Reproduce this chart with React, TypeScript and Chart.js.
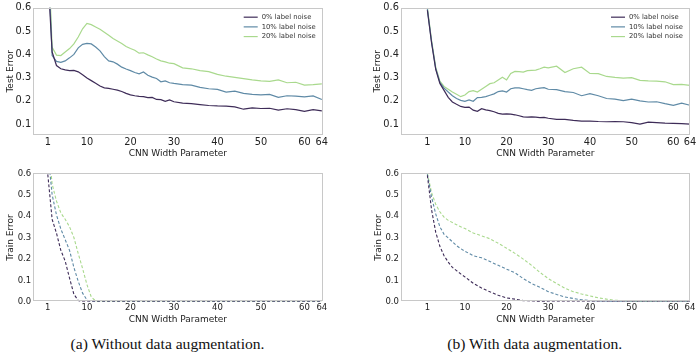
import React, { useEffect, useRef } from "react";
import { Chart, registerables } from "chart.js";

Chart.register(...registerables);

// ---------- data ----------
const TOP_WIDTHS = [
  1, 2, 3, 4, 5, 6, 7, 8, 9, 10, 11, 12, 13, 14, 15, 16, 17, 18, 19, 20,
  21, 22, 23, 24, 25, 26, 27, 28, 29, 30, 32, 34, 36, 38, 40, 42, 44, 46,
  48, 50, 52, 54, 56, 58, 60, 62, 64,
];

// (a) Without data augmentation – test error
const TEST_NOAUG_0 = [
  0.75, 0.41, 0.352, 0.338, 0.333, 0.33, 0.331, 0.325, 0.312, 0.298, 0.287,
  0.276, 0.264, 0.256, 0.254, 0.25, 0.246, 0.24, 0.232, 0.226, 0.222, 0.219,
  0.218, 0.214, 0.215, 0.206, 0.205, 0.198, 0.204, 0.196, 0.19, 0.188, 0.184,
  0.18, 0.178, 0.177, 0.174, 0.164, 0.17, 0.167, 0.168, 0.16, 0.166, 0.162,
  0.155, 0.162, 0.157,
];
const TEST_NOAUG_10 = [
  0.85, 0.395, 0.37, 0.366, 0.372, 0.385, 0.4, 0.428, 0.443, 0.447, 0.445,
  0.432, 0.415, 0.39, 0.372, 0.368, 0.358, 0.345, 0.337, 0.33, 0.322, 0.316,
  0.324, 0.31, 0.302, 0.296, 0.282, 0.286, 0.278, 0.275, 0.27, 0.268, 0.258,
  0.252, 0.249, 0.238, 0.242, 0.232, 0.228, 0.226, 0.228, 0.215, 0.222, 0.22,
  0.217, 0.221, 0.206,
];
const TEST_NOAUG_20 = [
  0.9, 0.43, 0.397, 0.395, 0.41, 0.425, 0.445, 0.475, 0.51, 0.533, 0.528,
  0.518, 0.508, 0.495, 0.482, 0.468, 0.458, 0.447, 0.434, 0.425, 0.418, 0.405,
  0.407, 0.398, 0.39, 0.38, 0.372, 0.368, 0.362, 0.36, 0.342, 0.338, 0.33,
  0.326, 0.314, 0.306, 0.301, 0.296, 0.29, 0.286, 0.284, 0.29, 0.278, 0.28,
  0.268, 0.27, 0.273,
];

// (b) With data augmentation – test error
const TEST_AUG_0 = [
  0.59, 0.45, 0.335, 0.275, 0.245, 0.215, 0.195, 0.185, 0.176, 0.172, 0.173,
  0.16, 0.155, 0.166, 0.161, 0.158, 0.153, 0.146, 0.143, 0.144, 0.143, 0.14,
  0.136, 0.131, 0.13, 0.131, 0.13, 0.128, 0.129, 0.125, 0.12, 0.12, 0.116,
  0.113, 0.113, 0.111, 0.11, 0.111, 0.11, 0.106, 0.1, 0.108, 0.106, 0.104,
  0.103, 0.102, 0.1,
];
const TEST_AUG_10 = [
  0.595, 0.455, 0.34, 0.28, 0.255, 0.238, 0.222, 0.21, 0.202, 0.198, 0.204,
  0.198, 0.214, 0.215, 0.218, 0.224, 0.23, 0.24, 0.243, 0.238, 0.252, 0.256,
  0.256, 0.252, 0.248, 0.245, 0.252, 0.255, 0.257, 0.25, 0.248, 0.24, 0.236,
  0.222, 0.231, 0.222, 0.21, 0.207, 0.201, 0.207, 0.2, 0.195, 0.196, 0.188,
  0.181, 0.19, 0.181,
];
const TEST_AUG_20 = [
  0.6, 0.46, 0.345, 0.285, 0.262, 0.25, 0.238, 0.228, 0.218, 0.225, 0.24,
  0.244, 0.238, 0.25, 0.262, 0.274, 0.278, 0.29, 0.302, 0.29, 0.318, 0.327,
  0.326, 0.324, 0.33, 0.331, 0.332, 0.338, 0.345, 0.342, 0.349, 0.322, 0.338,
  0.345, 0.318, 0.317, 0.305, 0.301, 0.298, 0.3, 0.288, 0.286, 0.285, 0.282,
  0.27, 0.271, 0.267,
];

// (a) Without data augmentation – train error
const TRAIN_NOAUG_WIDTHS = [1, 2, 3, 4, 5, 6, 7, 8, 9, 10, 11, 12, 13, 14, 16, 20, 30, 40, 50, 60, 64];
const TRAIN_NOAUG_0 = [0.595, 0.385, 0.32, 0.24, 0.19, 0.11, 0.035, 0.005, 0, 0, 0, 0, 0, 0, 0, 0, 0, 0, 0, 0, 0];
const TRAIN_NOAUG_10 = [0.7, 0.5, 0.405, 0.34, 0.29, 0.24, 0.16, 0.095, 0.04, 0.008, 0, 0, 0, 0, 0, 0, 0, 0, 0, 0, 0];
const TRAIN_NOAUG_20 = [0.75, 0.55, 0.47, 0.415, 0.385, 0.35, 0.3, 0.225, 0.155, 0.08, 0.022, 0.003, 0, 0, 0, 0, 0, 0, 0, 0, 0];

// (b) With data augmentation – train error
const TRAIN_AUG_WIDTHS = [
  1, 2, 3, 4, 5, 6, 7, 8, 9, 10, 12, 14, 16, 18, 20, 22, 24, 26, 28, 30, 32,
  34, 36, 38, 40, 42, 44, 46, 48, 50, 52, 56, 60, 64,
];
const TRAIN_AUG_0 = [
  0.59, 0.43, 0.325, 0.259, 0.215, 0.185, 0.16, 0.145, 0.13, 0.116, 0.086,
  0.064, 0.046, 0.03, 0.018, 0.012, 0.005, 0.003, 0.001, 0, 0, 0, 0, 0, 0, 0,
  0, 0, 0, 0, 0, 0, 0, 0,
];
const TRAIN_AUG_10 = [
  0.595, 0.49, 0.41, 0.35, 0.315, 0.298, 0.28, 0.262, 0.248, 0.236, 0.215,
  0.205, 0.188, 0.17, 0.152, 0.135, 0.108, 0.085, 0.067, 0.047, 0.034, 0.022,
  0.015, 0.009, 0.005, 0.003, 0.002, 0.001, 0, 0, 0, 0, 0, 0,
];
const TRAIN_AUG_20 = [
  0.6, 0.51, 0.455, 0.42, 0.395, 0.38, 0.37, 0.36, 0.35, 0.342, 0.321, 0.308,
  0.294, 0.273, 0.25, 0.226, 0.199, 0.17, 0.137, 0.108, 0.085, 0.063, 0.047,
  0.036, 0.027, 0.018, 0.012, 0.007, 0.004, 0.002, 0.001, 0, 0, 0,
];

const X_TICKS = [1, 10, 20, 30, 40, 50, 60, 64];
const Y_TICKS_TEST = [0.1, 0.2, 0.3, 0.4, 0.5, 0.6];
const Y_TICKS_TRAIN = [0, 0.1, 0.2, 0.3, 0.4, 0.5, 0.6];
const SERIES_LABELS = ["0% label noise", "10% label noise", "20% label noise"];
const X_TITLE = "CNN Width Parameter";
const CAPTION_A = "(a) Without data augmentation.";
const CAPTION_B = "(b) With data augmentation.";

// ---------- styles ----------
const COLORS = ["#3e2c58", "#5f8aa6", "#a9d98d"];
const FONT = "'DejaVu Sans', sans-serif";
const TEXT_COLOR = "#222222";
const FRAME_COLOR = "#c8c8c8";

type PanelSpec = {
  key: string;
  left: number;
  top: number;
  width: number;
  height: number;
  yAxisWidth: number;
  padRight: number;
  padTop: number;
  xAxisHeight: number;
  xMin: number;
  xMax: number;
  yMin: number;
  yMax: number;
  yTicks: number[];
  yTitle: string;
  yTitlePad: number;
  tickSize: number;
  xTickPad: number;
  xTitlePadBottom: number;
  widths: number[];
  series: number[][];
  dashed: boolean;
  legend: boolean;
};

const framePlugin = {
  id: "frame",
  afterDatasetsDraw(chart: any) {
    const { ctx, chartArea } = chart;
    ctx.save();
    ctx.strokeStyle = FRAME_COLOR;
    ctx.lineWidth = 1;
    ctx.strokeRect(
      Math.round(chartArea.left) + 0.5,
      Math.round(chartArea.top) + 0.5,
      Math.round(chartArea.right - chartArea.left) - 1,
      Math.round(chartArea.bottom - chartArea.top) - 1
    );
    ctx.restore();
  },
};

const legendPlugin = {
  id: "innerLegend",
  afterDraw(chart: any, _args: any, opts: any) {
    if (!opts || !opts.show) return;
    const { ctx, chartArea } = chart;
    ctx.save();
    ctx.font = `6.8px ${FONT}`;
    ctx.textBaseline = "middle";
    ctx.textAlign = "left";
    chart.data.datasets.forEach((ds: any, i: number) => {
      const y = chartArea.top + 9.5 + i * 9.7;
      ctx.strokeStyle = ds.borderColor;
      ctx.lineWidth = 1.2;
      ctx.beginPath();
      ctx.moveTo(chartArea.right - 79, y);
      ctx.lineTo(chartArea.right - 65, y);
      ctx.stroke();
      ctx.fillStyle = "#333333";
      ctx.fillText(ds.label, chartArea.right - 61, y);
    });
    ctx.restore();
  },
};

function Panel({ spec }: { spec: PanelSpec }) {
  const ref = useRef<HTMLCanvasElement | null>(null);
  useEffect(() => {
    if (!ref.current) return;
    const chart = new Chart(ref.current, {
      type: "line",
      data: {
        datasets: spec.series.map((vals, i) => ({
          label: SERIES_LABELS[i],
          data: spec.widths.map((w, j) => ({ x: w, y: vals[j] })),
          borderColor: COLORS[i],
          backgroundColor: COLORS[i],
          borderWidth: spec.dashed ? 1.1 : 1.2,
          borderDash: spec.dashed ? [3, 2] : [],
          pointRadius: 0,
          tension: 0,
          fill: false,
        })),
      },
      options: {
        responsive: false,
        animation: false,
        devicePixelRatio: 1,
        events: [],
        layout: { padding: { left: 0, right: spec.padRight, top: spec.padTop, bottom: 0 } },
        plugins: {
          legend: { display: false },
          tooltip: { enabled: false },
          innerLegend: { show: spec.legend },
        } as any,
        scales: {
          x: {
            type: "linear",
            min: spec.xMin,
            max: spec.xMax,
            grid: { display: false, drawTicks: false },
            border: { display: false },
            afterBuildTicks: (s: any) => {
              s.ticks = X_TICKS.map((v) => ({ value: v }));
            },
            afterFit: (s: any) => {
              s.height = spec.xAxisHeight;
            },
            ticks: {
              autoSkip: false,
              maxRotation: 0,
              minRotation: 0,
              padding: spec.xTickPad,
              color: TEXT_COLOR,
              font: { family: FONT, size: spec.tickSize },
              callback: (v: any) => String(v),
            },
            title: {
              display: true,
              text: X_TITLE,
              color: TEXT_COLOR,
              font: { family: FONT, size: 9 },
              padding: { top: 0, bottom: spec.xTitlePadBottom },
            },
          },
          y: {
            type: "linear",
            min: spec.yMin,
            max: spec.yMax,
            grid: { display: false, drawTicks: false },
            border: { display: false },
            afterBuildTicks: (s: any) => {
              s.ticks = spec.yTicks.map((v) => ({ value: v }));
            },
            afterFit: (s: any) => {
              s.width = spec.yAxisWidth;
            },
            ticks: {
              autoSkip: false,
              padding: 1.8,
              color: TEXT_COLOR,
              font: { family: FONT, size: spec.tickSize },
              callback: (v: any) => Number(v).toFixed(1),
            },
            title: {
              display: true,
              text: spec.yTitle,
              color: TEXT_COLOR,
              font: { family: FONT, size: 9 },
              padding: { top: spec.yTitlePad, bottom: 0 },
            },
          },
        },
      },
      plugins: [framePlugin, legendPlugin],
    } as any);
    return () => chart.destroy();
  }, [spec]);
  return (
    <canvas
      ref={ref}
      width={spec.width}
      height={spec.height}
      style={{
        position: "absolute",
        left: spec.left,
        top: spec.top,
        width: spec.width,
        height: spec.height,
      }}
    />
  );
}

const PANELS: PanelSpec[] = [
  {
    key: "tl",
    left: 0,
    top: 0,
    width: 345,
    height: 165,
    yAxisWidth: 33,
    padRight: 22.3,
    padTop: 6.7,
    xAxisHeight: 30,
    xMin: -2.4,
    xMax: 64.2,
    yMin: 0.053,
    yMax: 0.601,
    yTicks: Y_TICKS_TEST,
    yTitle: "Test Error",
    yTitlePad: 5.6,
    tickSize: 9.8,
    xTickPad: 2,
    xTitlePadBottom: 5.6,
    widths: TOP_WIDTHS,
    series: [TEST_NOAUG_0, TEST_NOAUG_10, TEST_NOAUG_20],
    dashed: false,
    legend: true,
  },
  {
    key: "tr",
    left: 350,
    top: 0,
    width: 350,
    height: 165,
    yAxisWidth: 50.7,
    padRight: 10,
    padTop: 6.7,
    xAxisHeight: 30,
    xMin: -5.4,
    xMax: 64,
    yMin: 0.053,
    yMax: 0.601,
    yTicks: Y_TICKS_TEST,
    yTitle: "Test Error",
    yTitlePad: 22.3,
    tickSize: 9.8,
    xTickPad: 2,
    xTitlePadBottom: 5.6,
    widths: TOP_WIDTHS,
    series: [TEST_AUG_0, TEST_AUG_10, TEST_AUG_20],
    dashed: false,
    legend: true,
  },
  {
    key: "bl",
    left: 0,
    top: 165,
    width: 345,
    height: 170,
    yAxisWidth: 33,
    padRight: 22.3,
    padTop: 8.3,
    xAxisHeight: 33.3,
    xMin: -2.4,
    xMax: 64.2,
    yMin: 0,
    yMax: 0.6,
    yTicks: Y_TICKS_TRAIN,
    yTitle: "Train Error",
    yTitlePad: 5.6,
    tickSize: 8.5,
    xTickPad: 1,
    xTitlePadBottom: 9.6,
    widths: TRAIN_NOAUG_WIDTHS,
    series: [TRAIN_NOAUG_0, TRAIN_NOAUG_10, TRAIN_NOAUG_20],
    dashed: true,
    legend: false,
  },
  {
    key: "br",
    left: 350,
    top: 165,
    width: 350,
    height: 170,
    yAxisWidth: 50.7,
    padRight: 10,
    padTop: 8.3,
    xAxisHeight: 33.3,
    xMin: -5.4,
    xMax: 64,
    yMin: 0,
    yMax: 0.6,
    yTicks: Y_TICKS_TRAIN,
    yTitle: "Train Error",
    yTitlePad: 22.9,
    tickSize: 8.5,
    xTickPad: 1,
    xTitlePadBottom: 9.6,
    widths: TRAIN_AUG_WIDTHS,
    series: [TRAIN_AUG_0, TRAIN_AUG_10, TRAIN_AUG_20],
    dashed: true,
    legend: false,
  },
];

const captionStyle = (cx: number): React.CSSProperties => ({
  position: "absolute",
  left: cx,
  top: 344,
  transform: "translate(-50%, -50%)",
  fontFamily: "'Liberation Serif', 'Times New Roman', serif",
  fontSize: 15.6,
  lineHeight: "18px",
  whiteSpace: "nowrap",
  color: "#111111",
});

export default function App() {
  return (
    <div
      style={{
        position: "absolute",
        left: 0,
        top: 0,
        width: 700,
        height: 357,
        background: "#ffffff",
        overflow: "hidden",
      }}
    >
      {PANELS.map((p) => (
        <Panel key={p.key} spec={p} />
      ))}
      <div style={captionStyle(167.5)}>{CAPTION_A}</div>
      <div style={captionStyle(534.7)}>{CAPTION_B}</div>
    </div>
  );
}
